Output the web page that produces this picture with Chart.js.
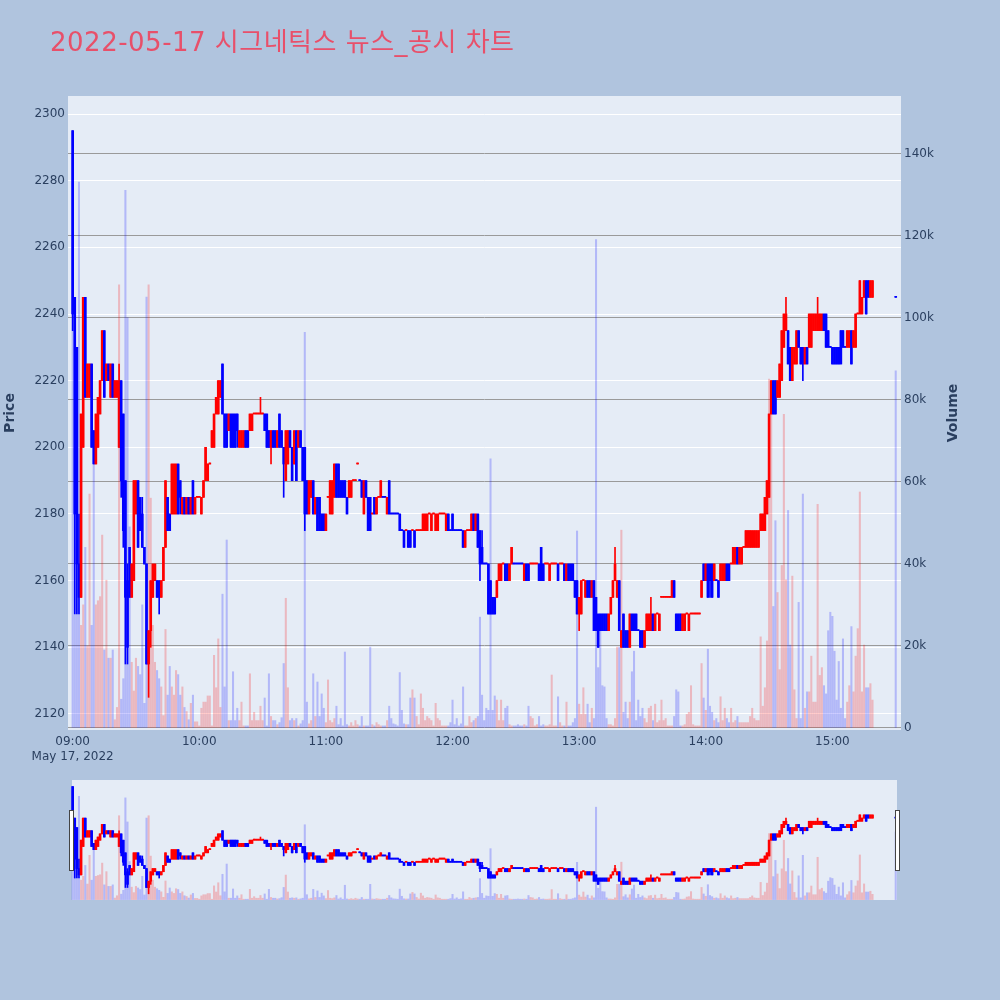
<!DOCTYPE html>
<html>
<head>
<meta charset="utf-8">
<script src="https://cdn.jsdelivr.net/npm/chart.js@4.4.0/dist/chart.umd.min.js"></script>
<style>
  html, body { margin: 0; padding: 0; background: #b0c4de; }
  #wrap { position: relative; width: 1000px; height: 1000px; overflow: hidden; }
  #title {
    position: absolute; left: 50px; top: 21px; white-space: nowrap; letter-spacing: 0.5px;
    font: 26px 'DejaVu Sans', 'Noto Sans CJK KR', sans-serif; color: #e8506a;
  }
  #main { position: absolute; left: 0; top: 0; }
  #slider { position: absolute; left: 68px; top: 780px; }
</style>
</head>
<body>
<div id="wrap">
  <canvas id="main" width="1000" height="780"></canvas>
  <canvas id="slider" width="833" height="120"></canvas>
  <div id="title">2022-05-17 시그네틱스 뉴스_공시 차트</div>
</div>
<script>
'use strict';

// 1-minute candles, 09:00 .. 15:19, then the 15:30 closing auction
const opens = [
  2295,2245,2230,2165,2155,2200,2245,2215,2215,2225, 2205,2195,2200,2210,2220,2235,2220,2225,2215,2225,
  2215,2215,2200,2220,2210,2190,2160,2170,2155,2160, 2180,2190,2185,2180,2170,2165,2135,2145,2155,2160,
  2160,2160,2155,2160,2170,2185,2180,2180,2180,2180, 2195,2190,2180,2185,2180,2185,2180,2190,2180,2185,
  2185,2180,2185,2190,2190,2195,2200,2200,2210,2210, 2215,2225,2210,2210,2205,2210,2210,2210,2210,2200,
  2200,2200,2205,2205,2205,2205,2210,2210,2210,2210, 2210,2210,2210,2205,2200,2205,2205,2200,2210,2205,
  2200,2190,2195,2205,2200,2195,2205,2200,2205,2200, 2200,2190,2180,2185,2190,2180,2185,2185,2180,2180,
  2175,2185,2180,2180,2185,2195,2195,2190,2190,2190, 2185,2185,2185,2190,2190,2195,2190,2190,2180,2190,
  2185,2185,2180,2185,2180,2185,2185,2185,2185,2180, 2190,2180,2180,2180,2180,2180,2175,2175,2175,2175,
  2175,2175,2175,2175,2175,2175,2175,2175,2175,2180, 2175,2180,2175,2175,2180,2180,2180,2175,2180,2175,
  2180,2175,2175,2175,2175,2175,2170,2175,2175,2175, 2180,2175,2180,2175,2170,2165,2165,2165,2160,2155,
  2155,2155,2160,2160,2165,2165,2165,2160,2165,2165, 2165,2165,2165,2165,2160,2165,2165,2165,2165,2165,
  2165,2165,2170,2165,2165,2165,2160,2165,2165,2165, 2165,2165,2165,2165,2160,2165,2165,2165,2160,2160,
  2150,2150,2160,2155,2160,2160,2155,2160,2155,2150, 2150,2150,2150,2150,2145,2150,2155,2160,2155,2160,
  2140,2150,2145,2145,2140,2150,2150,2150,2145,2145, 2145,2140,2145,2145,2145,2150,2145,2150,2145,2155,
  2155,2155,2155,2155,2155,2160,2150,2150,2150,2145, 2145,2150,2145,2150,2150,2150,2150,2150,2155,2165,
  2160,2165,2165,2165,2160,2160,2160,2160,2160,2160, 2165,2165,2165,2165,2165,2170,2165,2165,2170,2170,
  2170,2170,2170,2170,2170,2170,2175,2175,2175,2180, 2185,2210,2220,2220,2215,2215,2220,2230,2235,2235,
  2230,2220,2225,2225,2235,2230,2230,2225,2230,2230, 2230,2235,2235,2235,2235,2235,2240,2240,2235,2230,
  2230,2230,2230,2230,2235,2235,2230,2230,2230,2235, 2230,2230,2240,2240,2240,2245,2250,2250,2245,2245,
  2245
];
const highs = [
  2295,2245,2230,2180,2210,2245,2245,2225,2225,2225, 2205,2210,2215,2220,2235,2235,2225,2225,2225,2225,
  2220,2220,2225,2220,2210,2190,2165,2170,2165,2190, 2190,2190,2185,2185,2170,2165,2145,2160,2165,2165,
  2160,2160,2160,2170,2190,2185,2180,2195,2195,2195, 2195,2190,2185,2185,2185,2185,2185,2190,2185,2185,
  2185,2185,2190,2200,2195,2195,2205,2210,2215,2220, 2220,2225,2210,2210,2210,2210,2210,2210,2210,2205,
  2205,2205,2205,2205,2210,2210,2210,2210,2210,2215, 2210,2210,2210,2205,2205,2205,2205,2205,2210,2205,
  2200,2205,2205,2205,2200,2205,2205,2205,2205,2200, 2200,2190,2190,2190,2190,2185,2185,2185,2180,2180,
  2180,2185,2190,2190,2195,2195,2195,2190,2190,2190, 2185,2190,2190,2190,2190,2195,2190,2190,2190,2190,
  2185,2185,2180,2185,2185,2185,2190,2185,2185,2185, 2190,2180,2180,2180,2180,2180,2175,2175,2175,2175,
  2175,2175,2175,2175,2175,2175,2180,2180,2180,2180, 2180,2180,2180,2180,2180,2180,2180,2180,2180,2175,
  2180,2175,2175,2175,2175,2175,2175,2175,2175,2180, 2180,2180,2180,2175,2175,2165,2165,2165,2160,2155,
  2155,2160,2165,2165,2165,2165,2165,2165,2170,2165, 2165,2165,2165,2165,2165,2165,2165,2165,2165,2165,
  2165,2165,2170,2165,2165,2165,2165,2165,2165,2165, 2165,2165,2165,2165,2165,2165,2165,2165,2160,2160,
  2155,2160,2160,2160,2160,2160,2160,2160,2155,2150, 2150,2150,2150,2150,2150,2155,2160,2170,2160,2160,
  2145,2150,2145,2145,2150,2150,2150,2150,2145,2145, 2145,2145,2150,2150,2155,2150,2150,2150,2150,2155,
  2155,2155,2155,2155,2160,2160,2150,2150,2150,2150, 2150,2150,2150,2150,2150,2150,2150,2150,2160,2165,
  2165,2165,2165,2165,2165,2160,2160,2165,2165,2165, 2165,2165,2165,2170,2170,2170,2170,2170,2170,2175,
  2175,2175,2175,2175,2175,2175,2180,2180,2185,2190, 2210,2220,2220,2220,2220,2225,2235,2240,2245,2235,
  2230,2230,2230,2235,2235,2230,2230,2230,2230,2240, 2240,2240,2240,2245,2240,2240,2240,2240,2235,2230,
  2230,2230,2230,2230,2235,2235,2230,2235,2235,2235, 2235,2240,2240,2250,2245,2250,2250,2250,2250,2250,
  2245
];
const lows = [
  2235,2150,2150,2150,2155,2200,2215,2215,2215,2200, 2195,2195,2200,2210,2220,2215,2220,2220,2215,2215,
  2215,2215,2200,2185,2170,2135,2135,2155,2155,2160, 2180,2170,2175,2170,2165,2135,2125,2140,2155,2160,
  2155,2150,2155,2160,2170,2175,2175,2180,2180,2180, 2180,2180,2180,2180,2180,2180,2180,2180,2180,2185,
  2185,2180,2185,2190,2190,2195,2200,2200,2210,2210, 2215,2210,2200,2200,2205,2200,2200,2200,2200,2200,
  2200,2200,2200,2200,2205,2205,2210,2210,2210,2210, 2210,2205,2200,2200,2195,2200,2200,2200,2200,2200,
  2185,2190,2195,2200,2190,2195,2190,2200,2200,2190, 2175,2180,2180,2185,2180,2180,2175,2175,2175,2175,
  2175,2185,2180,2180,2185,2185,2185,2185,2185,2185, 2180,2185,2185,2190,2190,2195,2190,2185,2180,2185,
  2175,2175,2180,2180,2180,2185,2185,2185,2185,2180, 2180,2180,2180,2180,2180,2175,2175,2170,2175,2170,
  2170,2175,2170,2175,2175,2175,2175,2175,2175,2180, 2175,2180,2175,2175,2180,2180,2180,2175,2175,2175,
  2175,2175,2175,2175,2175,2170,2170,2175,2175,2175, 2175,2175,2170,2160,2165,2165,2165,2150,2150,2150,
  2150,2155,2160,2160,2165,2160,2160,2160,2165,2165, 2165,2165,2165,2165,2160,2160,2160,2165,2165,2165,
  2165,2160,2160,2160,2165,2165,2160,2165,2165,2165, 2160,2165,2165,2160,2160,2160,2160,2160,2155,2150,
  2145,2150,2160,2155,2155,2155,2155,2145,2145,2140, 2145,2145,2145,2145,2145,2150,2155,2160,2155,2145,
  2140,2140,2140,2140,2140,2145,2145,2145,2145,2140, 2140,2140,2145,2145,2145,2145,2145,2150,2145,2155,
  2155,2155,2155,2155,2155,2155,2145,2145,2145,2145, 2145,2150,2145,2150,2150,2150,2150,2150,2155,2160,
  2160,2155,2155,2155,2160,2160,2155,2160,2160,2160, 2160,2160,2165,2165,2165,2165,2165,2165,2170,2170,
  2170,2170,2170,2170,2170,2170,2175,2175,2175,2180, 2185,2210,2210,2210,2215,2215,2220,2230,2235,2225,
  2220,2220,2225,2225,2230,2225,2220,2225,2225,2230, 2230,2235,2235,2235,2235,2235,2235,2230,2230,2230,
  2225,2225,2225,2225,2225,2230,2230,2230,2230,2225, 2230,2230,2240,2240,2240,2245,2240,2245,2245,2245,
  2245
];
const closes = [
  2240,2180,2165,2155,2210,2245,2215,2225,2225,2200, 2195,2210,2215,2220,2235,2215,2225,2220,2225,2215,
  2220,2220,2220,2190,2175,2155,2140,2155,2165,2190, 2190,2170,2175,2170,2165,2135,2145,2160,2165,2165,
  2155,2155,2160,2170,2190,2175,2175,2195,2195,2195, 2180,2185,2185,2180,2185,2180,2185,2180,2185,2185,
  2185,2185,2190,2200,2195,2195,2205,2210,2215,2220, 2220,2210,2200,2200,2210,2200,2200,2200,2205,2205,
  2205,2205,2200,2200,2210,2210,2210,2210,2210,2210, 2210,2205,2200,2200,2205,2200,2200,2205,2200,2200,
  2195,2205,2205,2200,2190,2205,2190,2205,2200,2190, 2180,2180,2190,2190,2180,2185,2175,2175,2175,2175,
  2180,2185,2190,2190,2195,2185,2185,2185,2185,2185, 2180,2190,2190,2190,2190,2195,2190,2185,2190,2185,
  2175,2175,2180,2180,2185,2185,2190,2185,2185,2185, 2180,2180,2180,2180,2180,2175,2175,2170,2175,2170,
  2170,2175,2170,2175,2175,2175,2180,2180,2180,2180, 2180,2180,2180,2180,2180,2180,2180,2180,2175,2175,
  2175,2175,2175,2175,2175,2170,2175,2175,2175,2180, 2175,2180,2170,2165,2165,2165,2165,2150,2150,2150,
  2150,2160,2165,2165,2165,2160,2160,2165,2170,2165, 2165,2165,2165,2165,2165,2160,2160,2165,2165,2165,
  2165,2160,2160,2160,2165,2165,2165,2165,2165,2165, 2160,2165,2165,2160,2165,2160,2160,2160,2155,2150,
  2155,2160,2160,2160,2155,2155,2160,2145,2145,2140, 2145,2145,2145,2145,2150,2155,2160,2165,2160,2145,
  2145,2140,2140,2140,2150,2145,2145,2145,2145,2140, 2140,2145,2150,2150,2150,2145,2150,2150,2150,2155,
  2155,2155,2155,2155,2160,2155,2145,2145,2145,2150, 2150,2150,2150,2150,2150,2150,2150,2150,2160,2160,
  2165,2155,2160,2155,2165,2160,2155,2165,2165,2165, 2160,2160,2165,2170,2170,2165,2170,2170,2170,2175,
  2175,2175,2175,2175,2175,2175,2180,2180,2185,2190, 2210,2220,2210,2210,2220,2225,2235,2240,2240,2225,
  2220,2230,2230,2235,2230,2225,2225,2230,2225,2240, 2240,2240,2240,2240,2240,2240,2235,2230,2230,2230,
  2225,2225,2225,2225,2225,2230,2230,2235,2235,2225, 2235,2240,2240,2250,2245,2250,2240,2245,2250,2250,
  2245
];
// volume in thousands of shares
const volumes = [
  140,68,45,133,25,30,44,20,57,25, 64,30,31,32,47,19,36,17,17,19,
  2,5,108,7,12,131,100,49,16,9, 17,15,13,30,6,105,108,56,25,16,
  14,12,10,3,24,8,15,10,8,14, 13,8,10,5,4,2,6,8,1.5,1.5,
  0.5,4.8,6.3,6.3,7.8,7.8,0.5,17.7,9.8,21.7, 5,32.6,10,45.8,1.8,1.8,13.7,1.8,4.8,1.8,
  6.3,0.5,0.5,0.5,13.2,1.8,3.8,1.8,1.8,5.3, 1.8,7.3,0.5,13.2,2.8,1.8,1.8,0.8,1.3,2.5,
  15.7,31.6,9.8,1.8,2.3,1.8,2.3,0.5,1,1.8, 96.4,6.3,1,1.8,13.2,2.8,11.2,2.8,8.3,4.8,
  1.3,11.7,1.8,1.3,2.3,5.3,0.8,2.3,0.5,18.5, 0.8,0.5,1.3,0.5,1.8,0.8,0.5,2.8,0.5,0.5,
  0.5,19.7,0.8,0.5,1.3,0.8,0.5,0.5,0.5,1.8, 5.3,2.3,1,0.8,0.5,13.5,4.3,1,0.8,0.8,
  7.3,9.3,7.3,2.8,0.8,8.3,4.8,1.8,2.8,2.3, 1.8,0.5,6,2.3,1.8,0.5,0.5,0.5,0.5,1.3,
  6.8,0.8,2.3,0.5,1,10,0.5,0.5,2.8,1.3, 1.8,2.3,2.8,27,8,1.8,4.8,4.3,65.6,4.3,
  7.8,6.8,1.8,6.8,1.8,4.8,5.3,0.8,0.5,0.5, 0.5,0.8,0.5,0.5,0.8,0.5,5.3,2.8,2.3,0.5,
  0.8,2.8,0.5,0.8,0.5,0.5,0.8,12.9,0.5,0.5, 7.6,1.3,0.5,0.5,6.3,0.5,0.5,1.3,2.3,48,
  5.8,3.3,9.8,3.3,5.8,1.3,4.8,2.3,119,14.7, 27.6,10.3,10,2.3,0.8,0.8,0.5,2.3,19.7,19.7,
  48.2,3.8,6.3,2.3,6.3,13.7,18.7,1.8,6.8,2.8, 4.8,2.3,1.3,4.8,5.3,1.8,5.8,1.3,1.8,6.8,
  1.8,2.3,0.5,0.5,0.5,2.8,9.3,8.8,0.5,0.5, 0.8,3.3,3.8,10.3,0.8,0.5,0.5,0.5,15.7,7.3,
  4.3,19.2,5.3,3.8,1.8,2.3,1.3,7.6,1.8,4.8, 2.3,1.3,4.8,1.3,1.8,2.8,1.3,1.3,1.3,1.3,
  1.3,2.8,4.8,2.3,1.8,1.8,22.2,5.3,9.8,21.2, 85,82,29.6,50.5,33,14.2,39.6,76.4,36.1,53,
  20.2,37,9.3,2.3,30.6,2.3,57,4.8,8.8,8.8, 17.5,6.3,6.3,54.5,12.8,14.7,10.3,8.3,23.7,28.2,
  27.2,18.7,6.8,16.2,4.8,21.7,2.3,6.3,10.3,24.7, 8.8,17.5,24.2,57.5,8.8,20.2,9.8,9.8,10.8,6.8,
  87
];

const hourLabels = ['09:00', '10:00', '11:00', '12:00', '13:00', '14:00', '15:00'];
const dateLabel = 'May 17, 2022';
const priceTicks = [2120, 2140, 2160, 2180, 2200, 2220, 2240, 2260, 2280, 2300];
const volumeTicks = [0, 20, 40, 60, 80, 100, 120, 140];

// minutes after 09:00; the last candle is the 15:30 auction
const minutes = closes.map((_, i) => (i < closes.length - 1 ? i : 390));

const RED = '#ff0000';
const BLUE = '#0000ff';
const FONT = "'DejaVu Sans', 'Noto Sans CJK KR', sans-serif";
const TEXT = '#2a3f5f';

// plotly style direction: a flat candle is compared with the previous close
const rising = [];
closes.forEach((c, i) => {
  const o = opens[i];
  const prevC = i > 0 ? closes[i - 1] : c;
  if (c > o) rising.push(true);
  else if (c < o) rising.push(false);
  else if (c > prevC) rising.push(true);
  else if (c < prevC) rising.push(false);
  else rising.push(i > 0 ? rising[i - 1] : false);
});
const candleColors = rising.map(up => (up ? RED : BLUE));
const volumeColors = rising.map(up => (up ? 'rgba(255,0,0,0.22)' : 'rgba(0,0,255,0.22)'));

function hourMinute(label) {
  const [h, m] = label.split(':').map(Number);
  return (h - 9) * 60 + m;
}

function makeDatasets(bodyW, wickW, volW) {
  return [
    {
      label: 'body',
      data: minutes.map((m, i) => ({ x: m, y: [opens[i], closes[i]] })),
      backgroundColor: candleColors,
      barThickness: bodyW,
      minBarLength: 1,
      grouped: false,
      yAxisID: 'y',
      order: 0
    },
    {
      label: 'wick',
      data: minutes.map((m, i) => ({ x: m, y: [lows[i], highs[i]] })),
      backgroundColor: candleColors,
      barThickness: wickW,
      minBarLength: 1,
      grouped: false,
      yAxisID: 'y',
      order: 1
    },
    {
      label: 'Volume',
      data: minutes.map((m, i) => ({ x: m, y: volumes[i] })),
      backgroundColor: volumeColors,
      barThickness: volW,
      grouped: false,
      yAxisID: 'y1',
      order: 2
    }
  ];
}

const X_MIN = -2.2, X_MAX = 392.5;
const P_MIN = 2115.2, P_MAX = 2305.4;
const V_MIN = -0.5, V_MAX = 154;

const plotBackground = {
  id: 'plotBackground',
  beforeDraw(chart, args, opts) {
    const { ctx, chartArea: a } = chart;
    const l = a.left + (opts.insetLeft || 0);
    const r = a.right - (opts.insetRight || 0);
    ctx.save();
    ctx.fillStyle = opts.color;
    ctx.fillRect(l, a.top, r - l, a.bottom - a.top);
    ctx.restore();
  }
};

// rotated right-hand axis title, reads bottom to top like the left one
const volumeTitle = {
  id: 'volumeTitle',
  afterDraw(chart) {
    const { ctx, chartArea: a } = chart;
    ctx.save();
    ctx.translate(953, (a.top + a.bottom) / 2);
    ctx.rotate(-Math.PI / 2);
    ctx.font = 'bold 14px ' + FONT;
    ctx.fillStyle = TEXT;
    ctx.textAlign = 'center';
    ctx.textBaseline = 'middle';
    ctx.fillText('Volume', 0, 0);
    ctx.restore();
  }
};

new Chart(document.getElementById('main'), {
  type: 'bar',
  data: { datasets: makeDatasets(2, 1, 1.4) },
  options: {
    responsive: false,
    animation: false,
    layout: { padding: { top: 96, right: 35, left: 0, bottom: 0 } },
    plugins: {
      legend: { display: false },
      tooltip: { enabled: false },
      plotBackground: { color: '#e5ecf6' }
    },
    scales: {
      x: {
        type: 'linear',
        min: X_MIN,
        max: X_MAX,
        offset: false,
        grid: { display: false, drawTicks: false },
        border: { display: false },
        afterBuildTicks: s => { s.ticks = hourLabels.map(h => ({ value: hourMinute(h) })); },
        afterFit: s => { s.height = 50; },
        ticks: {
          autoSkip: false,
          maxRotation: 0,
          padding: 5,
          color: TEXT,
          font: { family: FONT, size: 12 },
          callback: v => {
            const label = hourLabels.find(h => hourMinute(h) === v) || '';
            return v === 0 ? [label, dateLabel] : label;
          }
        }
      },
      y: {
        position: 'left',
        min: P_MIN,
        max: P_MAX,
        grid: { color: '#ffffff', lineWidth: 1, drawTicks: false },
        border: { display: false },
        afterBuildTicks: s => { s.ticks = priceTicks.map(v => ({ value: v })); },
        afterFit: s => { s.width = 68; },
        ticks: {
          padding: 3,
          color: TEXT,
          font: { family: FONT, size: 12 },
          callback: v => String(v)
        },
        title: {
          display: true,
          text: 'Price',
          color: TEXT,
          padding: { top: 2, bottom: 0 },
          font: { family: FONT, size: 14, weight: 'bold' }
        }
      },
      y1: {
        position: 'right',
        min: V_MIN,
        max: V_MAX,
        grid: { color: '#9a9a9a', lineWidth: 1, drawTicks: false },
        border: { display: false },
        afterBuildTicks: s => { s.ticks = volumeTicks.map(v => ({ value: v })); },
        afterFit: s => { s.width = 64; },
        ticks: {
          padding: 3,
          color: TEXT,
          font: { family: FONT, size: 12 },
          callback: v => (v === 0 ? '0' : v + 'k')
        }
      }
    }
  },
  plugins: [plotBackground, volumeTitle]
});

// range slider below the main plot
const sliderHandles = {
  id: 'sliderHandles',
  afterDraw(chart) {
    const ctx = chart.ctx;
    ctx.save();
    ctx.fillStyle = '#ffffff';
    ctx.strokeStyle = '#444444';
    ctx.lineWidth = 1;
    [1.5, 827.5].forEach(x => {
      ctx.fillRect(x, 30.5, 4, 60);
      ctx.strokeRect(x, 30.5, 4, 60);
    });
    ctx.restore();
  }
};

new Chart(document.getElementById('slider'), {
  type: 'bar',
  data: { datasets: makeDatasets(2, 1, 1.4) },
  options: {
    responsive: false,
    animation: false,
    layout: { padding: 0 },
    plugins: {
      legend: { display: false },
      tooltip: { enabled: false },
      plotBackground: { color: '#e5ecf6', insetLeft: 4, insetRight: 4 }
    },
    scales: {
      x: { type: 'linear', min: X_MIN, max: X_MAX, offset: false, display: false },
      y: { min: P_MIN, max: P_MAX, display: false },
      y1: { min: V_MIN, max: V_MAX, display: false }
    }
  },
  plugins: [plotBackground, sliderHandles]
});
</script>
</body>
</html>
